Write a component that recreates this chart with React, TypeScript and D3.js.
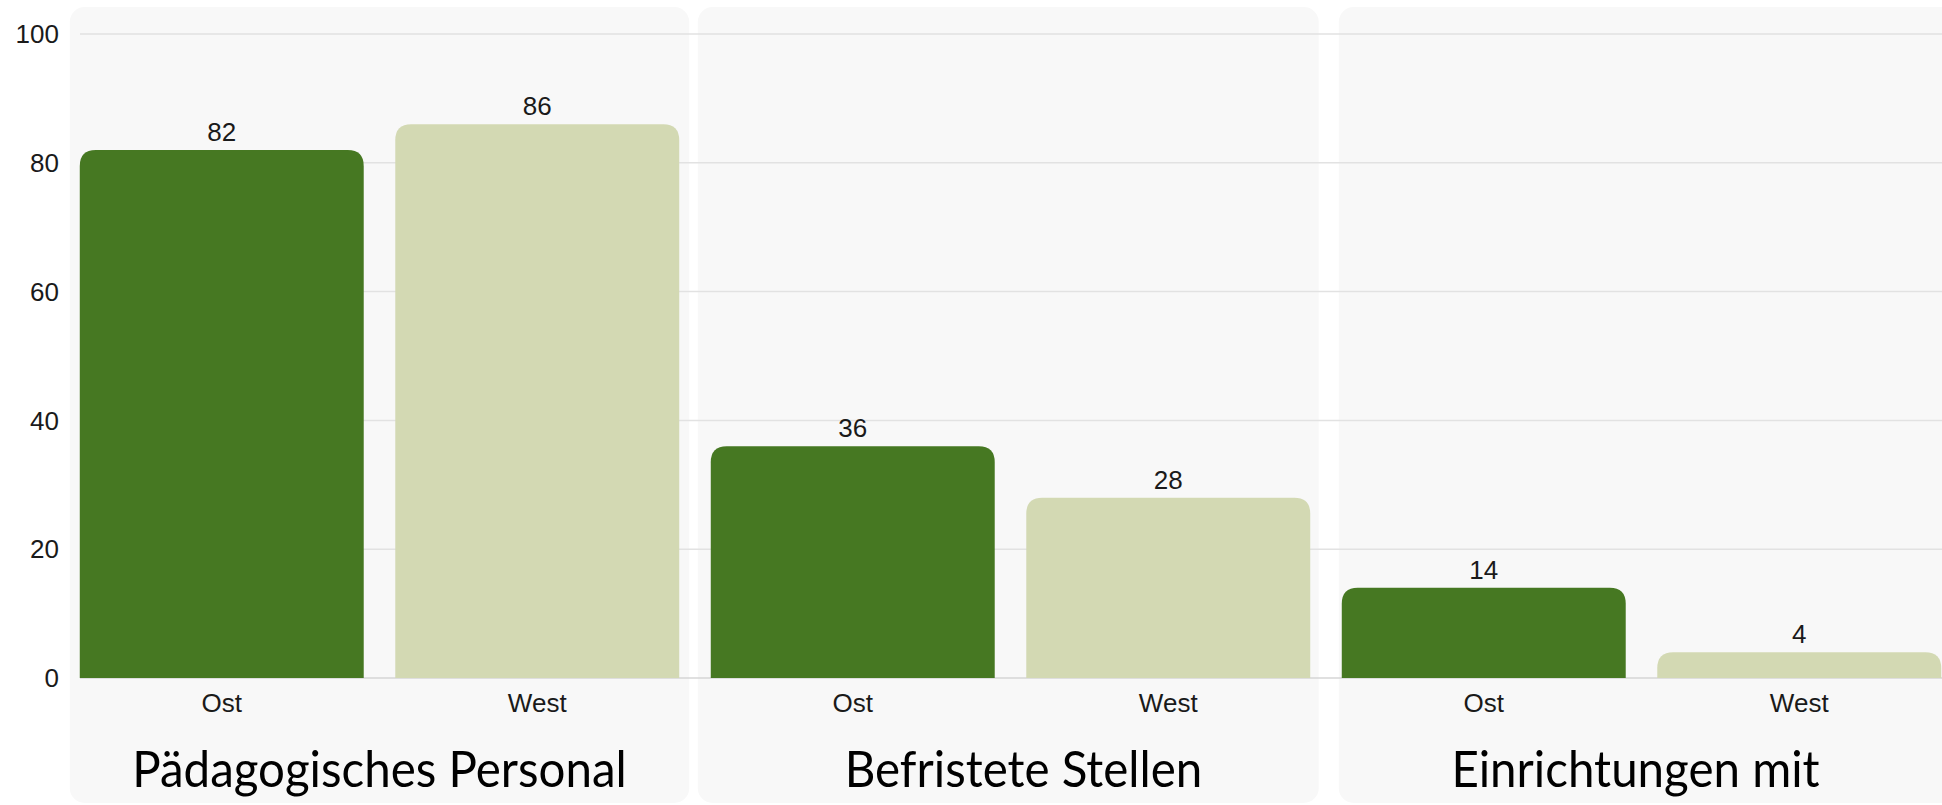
import React from 'react';
import * as d3 from 'd3';

// groups and series
const groups = ['Pädagogisches Personal', 'Befristete Stellen', 'Einrichtungen mit'];
const regions = ['Ost', 'West'];
const ostValues = [82, 36, 14];
const westValues = [86, 28, 4];
const yTicks = [0, 20, 40, 60, 80, 100];

const W = 1942;
const H = 805;
const colors: Record<string, string> = { Ost: '#467822', West: '#d3d9b3' };

// top corners rounded, bottom square
function barPath(x: number, y: number, w: number, h: number, r: number) {
    const rr = Math.min(r, h, w / 2);
    return `M${x},${y + h}V${y + rr}Q${x},${y} ${x + rr},${y}H${x + w - rr}Q${x + w},${y} ${x + w},${y + rr}V${y + h}Z`;
}

export default function App() {
    const bars = groups.flatMap((g, gi) => [
        { key: gi + '-Ost', group: gi, region: 'Ost', value: ostValues[gi] },
        { key: gi + '-West', group: gi, region: 'West', value: westValues[gi] },
    ]);

    const x = d3.scaleBand<string>()
        .domain(bars.map(d => d.key))
        .range([64, 1957])
        .paddingInner(0.1)
        .paddingOuter(0.05);

    const y = d3.scaleLinear().domain([0, 100]).range([678, 34]);

    // card backgrounds (they are not quite aligned with the bars in the original)
    const panelPadL = [10, 13, 3];
    const panelPadR = [10, 8.5, 20];
    const titleShift = [0, 13, -6];

    const groupExtent = (gi: number) => {
        const a = x(gi + '-Ost')!;
        const b = x(gi + '-West')! + x.bandwidth();
        return [a, b];
    };

    return (
        <svg width={W} height={H} style={{ position: 'absolute', left: 0, top: 0, background: '#fff' }}>
            {groups.map((g, gi) => {
                const [a, b] = groupExtent(gi);
                return (
                    <rect key={'p' + gi} x={a - panelPadL[gi]} y={7}
                        width={b - a + panelPadL[gi] + panelPadR[gi]} height={796}
                        rx={15} fill="#f8f8f8" />
                );
            })}

            {/* gridlines */}
            {yTicks.map(t => (
                <line key={'g' + t} x1={80} x2={W} y1={y(t)} y2={y(t)}
                    stroke={t === 0 ? '#d6d6d6' : '#e2e2e2'} strokeWidth={1.5} />
            ))}

            {/* y tick labels */}
            {yTicks.map(t => (
                <text key={'t' + t} x={59} y={y(t)} dy="0.35em" textAnchor="end"
                    fontFamily="'Liberation Sans', Arial, sans-serif" fontSize={26} fill="#1a1a1a">{t}</text>
            ))}

            {bars.map(d => {
                const bx = x(d.key)!;
                const by = y(d.value);
                return (
                    <g key={d.key}>
                        <path d={barPath(bx, by, x.bandwidth(), y(0) - by, 16)} fill={colors[d.region]} />
                        <text x={bx + x.bandwidth() / 2} y={by - 9} textAnchor="middle"
                            fontFamily="'Liberation Sans', Arial, sans-serif" fontSize={26} fill="#1a1a1a">{d.value}</text>
                        <text x={bx + x.bandwidth() / 2} y={712} textAnchor="middle"
                            fontFamily="'Liberation Sans', Arial, sans-serif" fontSize={26} fill="#1a1a1a">{d.region}</text>
                    </g>
                );
            })}

            {groups.map((g, gi) => {
                const [a, b] = groupExtent(gi);
                const cx = (a + b) / 2 + titleShift[gi];
                return (
                    <text key={'h' + gi} transform={`translate(${cx},787) scale(0.95,1)`} textAnchor="middle"
                        fontFamily="Lato, sans-serif" fontSize={50} fill="#000">{g}</text>
                );
            })}
        </svg>
    );
}
